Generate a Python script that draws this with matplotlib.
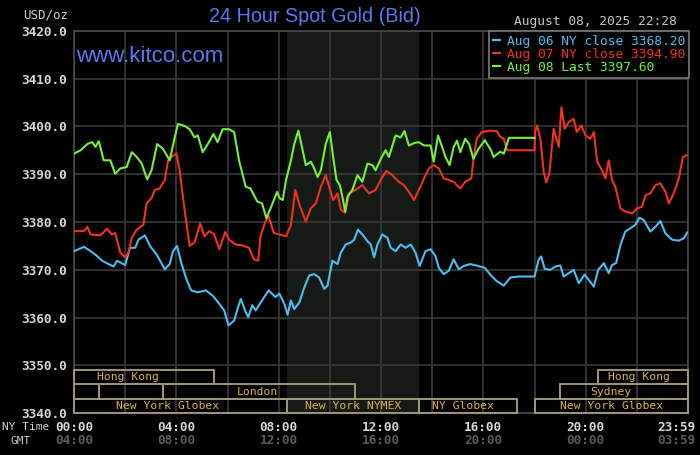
import matplotlib
matplotlib.use("Agg")
import matplotlib.pyplot as plt
from matplotlib.patches import Rectangle
from matplotlib.lines import Line2D

# ---- data (hours NY time, USD/oz) ----
aug06_h = [0, 0.39, 0.65, 0.9, 1.1, 1.35, 1.55, 1.68, 2.0, 2.19, 2.39, 2.52, 2.77, 2.97,
           3.23, 3.55, 3.74, 3.87, 4.03, 4.19, 4.39, 4.58, 4.84, 5.16, 5.42, 5.68, 5.87,
           6.04, 6.26, 6.39, 6.52, 6.71, 6.81, 6.97, 7.1, 7.35, 7.61, 7.87, 8.03, 8.22,
           8.35, 8.48, 8.61, 8.81, 9.0, 9.19, 9.39, 9.58, 9.78, 9.91, 10.1, 10.3, 10.43,
           10.62, 10.82, 10.95, 11.1, 11.27, 11.47, 11.6, 11.73, 11.86, 12.05, 12.25,
           12.38, 12.57, 12.77, 12.96, 13.16, 13.35, 13.51, 13.74, 13.94, 14.13, 14.26,
           14.45, 14.65, 14.84, 15.04, 15.23, 15.49, 15.81, 16.06, 16.27, 16.53, 16.8,
           17.06, 17.38, 18.0, 18.16, 18.26, 18.4, 18.62, 18.82, 19.01, 19.14, 19.34,
           19.53, 19.73, 19.96, 20.12, 20.32, 20.49, 20.71, 20.9, 21.03, 21.19, 21.36,
           21.55, 21.75, 21.94, 22.1, 22.27, 22.53, 22.73, 22.92, 23.12, 23.38, 23.64,
           23.84, 23.97]
aug06_p = [3373.9, 3374.8, 3373.9, 3372.9, 3371.9, 3371.2, 3370.7, 3371.9, 3371.0, 3374.6,
           3374.6, 3376.3, 3377.2, 3375.0, 3373.2, 3370.1, 3371.2, 3373.9, 3375.0, 3371.5,
           3368.1, 3365.7, 3365.3, 3365.7, 3364.6, 3362.9, 3361.5, 3358.4, 3359.4, 3361.8,
           3363.9, 3361.2, 3360.1, 3362.6, 3361.5, 3363.6, 3365.7, 3364.3, 3365.0, 3362.9,
           3360.6, 3363.6, 3361.8, 3363.2, 3366.3, 3368.8, 3369.1, 3368.4, 3366.0, 3366.7,
           3371.9, 3371.2, 3373.6, 3375.3, 3375.7, 3376.3, 3378.4, 3377.4, 3376.0, 3375.3,
           3372.6, 3375.3, 3377.4, 3376.7, 3374.6, 3373.9, 3375.3, 3374.6, 3375.3, 3373.6,
           3370.8, 3373.9, 3374.3, 3372.9, 3370.4, 3369.1, 3369.8, 3372.2, 3370.1, 3370.8,
           3371.2, 3370.8, 3370.4, 3369.0, 3367.6, 3366.7, 3368.4, 3368.6, 3368.6, 3372.1,
           3372.8, 3370.2, 3370.0, 3370.7, 3370.9, 3368.6, 3369.3, 3370.0, 3367.2, 3369.0,
           3367.9, 3366.5, 3370.0, 3371.4, 3369.3, 3371.0, 3371.4, 3375.2, 3378.0, 3378.7,
           3379.4, 3380.9, 3380.4, 3378.0, 3379.0, 3380.2, 3377.6, 3376.3, 3376.1, 3376.6,
           3377.8]

aug07_h = [0, 0.39, 0.52, 0.65, 1.03, 1.29, 1.48, 1.61, 1.81, 2.0, 2.13, 2.26, 2.45, 2.71,
           2.84, 3.03, 3.16, 3.35, 3.55, 3.68, 3.81, 4.0, 4.13, 4.32, 4.52, 4.71, 4.93,
           5.1, 5.29, 5.48, 5.68, 5.91, 6.06, 6.32, 6.58, 6.84, 7.03, 7.2, 7.29, 7.48,
           7.61, 7.81, 8.03, 8.29, 8.48, 8.65, 8.81, 9.06, 9.26, 9.45, 9.65, 9.84, 9.97,
           10.13, 10.3, 10.43, 10.6, 10.75, 11.01, 11.27, 11.53, 11.79, 11.99, 12.21,
           12.44, 12.7, 12.9, 13.09, 13.29, 13.48, 13.68, 13.87, 14.06, 14.26, 14.45,
           14.65, 14.84, 15.1, 15.29, 15.53, 15.61, 15.74, 15.94, 16.26, 16.53, 16.66,
           16.8, 16.93, 17.0, 18.0, 18.02, 18.1, 18.23, 18.36, 18.46, 18.58, 18.75, 18.82,
           18.95, 19.05, 19.18, 19.34, 19.53, 19.65, 19.83, 19.99, 20.18, 20.32, 20.45,
           20.64, 20.77, 20.9, 21.03, 21.16, 21.36, 21.55, 21.81, 22.0, 22.2, 22.34,
           22.53, 22.73, 22.92, 23.12, 23.25, 23.38, 23.54, 23.64, 23.8, 23.97]
aug07_p = [3378.1, 3378.1, 3379.0, 3377.4, 3377.2, 3378.6, 3377.4, 3377.7, 3373.6, 3372.6,
           3373.6, 3376.7, 3378.4, 3379.4, 3383.9, 3385.0, 3386.7, 3387.0, 3388.8, 3392.9,
           3393.6, 3394.3, 3390.8, 3382.6, 3375.0, 3375.7, 3379.7, 3377.0, 3378.1, 3377.4,
           3374.3, 3377.9, 3376.3, 3375.3, 3375.1, 3374.6, 3372.2, 3371.9, 3377.0, 3380.1,
           3381.2, 3377.7, 3377.4, 3377.0, 3379.4, 3386.7, 3383.6, 3380.1, 3382.9, 3383.9,
           3387.4, 3389.8, 3387.4, 3384.6, 3386.0, 3382.6, 3381.9, 3386.0, 3386.7, 3387.7,
           3386.0, 3386.7, 3388.8, 3390.7, 3389.8, 3388.4, 3387.7, 3386.3, 3384.6, 3386.7,
           3389.1, 3391.2, 3391.9, 3391.2, 3389.1, 3388.8, 3388.4, 3387.0, 3388.4, 3389.1,
           3392.9, 3397.4, 3398.8, 3399.1, 3399.0, 3397.8, 3397.4, 3395.0, 3395.0, 3395.0,
           3398.8, 3400.2, 3397.4, 3390.5, 3388.3, 3390.1, 3399.5, 3398.1, 3395.7, 3404.0,
           3399.5, 3400.9, 3401.6, 3398.8, 3400.2, 3398.1, 3397.4, 3398.8, 3392.6, 3390.8,
           3389.1, 3392.9, 3388.8, 3387.4, 3382.8, 3382.2, 3381.8, 3382.8, 3383.2, 3385.6,
           3386.0, 3387.7, 3388.1, 3386.3, 3383.9, 3385.3, 3387.4, 3389.1, 3393.6, 3394.0]

aug08_h = [0, 0.26, 0.52, 0.71, 0.84, 0.97, 1.16, 1.42, 1.61, 1.81, 2.06, 2.26, 2.45, 2.65,
           2.86, 3.03, 3.25, 3.48, 3.74, 3.94, 4.06, 4.32, 4.52, 4.71, 4.84, 5.03, 5.23,
           5.45, 5.61, 5.81, 6.06, 6.26, 6.45, 6.71, 6.9, 7.16, 7.35, 7.52, 7.74, 7.94,
           8.03, 8.16, 8.29, 8.48, 8.61, 8.77, 8.91, 9.06, 9.26, 9.39, 9.52, 9.65, 9.84,
           10.0, 10.13, 10.26, 10.39, 10.49, 10.6, 10.69, 10.88, 11.08, 11.27, 11.47,
           11.66, 11.79, 11.99, 12.18, 12.31, 12.57, 12.77, 12.92, 13.09, 13.29, 13.48,
           13.68, 13.94, 14.06, 14.23, 14.39, 14.52, 14.68, 14.84, 14.97, 15.1, 15.29,
           15.45, 15.61, 15.81, 16.06, 16.3, 16.4, 16.66, 16.8, 16.93, 17.0, 18.0]
aug08_p = [3394.3, 3395.0, 3396.3, 3396.7, 3395.7, 3396.9, 3392.9, 3392.9, 3390.1, 3391.2,
           3391.5, 3394.6, 3393.6, 3392.2, 3388.9, 3390.8, 3396.3, 3395.3, 3392.9, 3397.7,
           3400.5, 3400.1, 3399.4, 3397.7, 3398.1, 3394.6, 3396.3, 3398.4, 3396.7, 3399.4,
           3399.4, 3398.8, 3392.9, 3387.4, 3387.0, 3384.3, 3383.9, 3380.8, 3383.6, 3386.3,
           3385.0, 3384.6, 3388.8, 3392.9, 3396.3, 3399.1, 3395.7, 3391.9, 3392.6, 3391.2,
           3389.4, 3390.8, 3396.3, 3398.8, 3393.6, 3388.8, 3387.7, 3385.3, 3382.2, 3385.3,
           3386.7, 3389.8, 3388.4, 3392.2, 3391.9, 3390.8, 3393.2, 3395.0, 3393.6, 3398.1,
           3397.7, 3399.0, 3396.0, 3396.5, 3396.7, 3396.0, 3396.0, 3392.6, 3398.1, 3395.7,
           3393.6, 3391.9, 3395.7, 3397.0, 3394.6, 3397.4, 3396.3, 3393.2, 3395.3, 3397.1,
           3395.0, 3393.6, 3394.7, 3394.3, 3396.4, 3397.6, 3397.6]

legend_labels = ["Aug 06 NY close 3368.20", "Aug 07 NY close 3394.90", "Aug 08 Last 3397.60"]

y_ticks = [3340, 3350, 3360, 3370, 3380, 3390, 3400, 3410, 3420]
ny_hours = [0, 4, 8, 12, 16, 20, 24]
ny_labels = ["00:00", "04:00", "08:00", "12:00", "16:00", "20:00", "23:59"]
gmt_labels = ["04:00", "08:00", "12:00", "16:00", "20:00", "00:00", "03:59"]

# market sessions: row (0 top), start, end, name
sess_row = [0, 0, 1, 1, 1, 1, 2, 2, 2, 2]
sess_start = [0.0, 20.5, 0.0, 0.96, 3.47, 19.0, 0.0, 8.33, 13.5, 18.0]
sess_end = [5.47, 24.0, 0.96, 3.47, 11.0, 24.0, 8.33, 13.5, 17.3, 24.0]
sess_name = ["Hong Kong", "Hong Kong", "", "", "London", "Sydney",
             "New York Globex", "New York NYMEX", "NY Globex", "New York Globex"]
sess_text_x = [2.1, 22.1, 0, 0, 7.15, 21.0, 3.65, 10.9, 15.2, 21.0]
row_bottom = [3346.1, 3343.0, 3340.0]
row_top = [3349.0, 3346.1, 3342.9]

nymex_open, nymex_close = 8.333, 13.5

# ---- styling ----
BLUE, RED, GREEN = "#4cbef0", "#f0321e", "#76f03a"
TITLE = "#5b78f2"
GRID = "#3a3a3a"
MONO = "DejaVu Sans Mono"

fig = plt.figure(figsize=(7, 4.55), dpi=100, facecolor="black")
ax = fig.add_axes([74 / 700, 41.7 / 455, 614 / 700, 382.6 / 455])
ax.set_facecolor("black")

ax.axvspan(nymex_open, nymex_close, color="#161a16", zorder=0, lw=0)

ax.plot(aug06_h, aug06_p, color=BLUE, lw=1.5, zorder=3)
ax.plot(aug07_h, aug07_p, color=RED, lw=1.5, zorder=3)
ax.plot(aug08_h, aug08_p, color=GREEN, lw=1.5, zorder=3)

ax.set_xlim(0, 24)
ax.set_ylim(3340, 3420)
ax.set_xticks(range(0, 25, 2))
ax.set_yticks(y_ticks)
ax.set_yticklabels([f"{v:.1f}" for v in y_ticks], family=MONO, fontsize=9.2,
                   fontweight="bold", color="#d6d6d6")
ax.set_xticklabels([])
ax.tick_params(length=0, pad=5)
ax.grid(True, color=GRID, lw=1.2, zorder=1)
ax.set_axisbelow(True)
for s in ax.spines.values():
    s.set_color("#4a4a4a")
    s.set_linewidth(1.2)

# session boxes
for r, a, b, name, tx in zip(sess_row, sess_start, sess_end, sess_name, sess_text_x):
    ax.add_patch(Rectangle((a, row_bottom[r]), b - a, row_top[r] - row_bottom[r],
                           fill=False, ec="#9c9878", lw=1.4, zorder=4, clip_on=False))
    if name:
        ax.text(tx, (row_bottom[r] + row_top[r]) / 2, name, family=MONO, fontsize=8.2,
                color="#dcb63c", ha="center", va="center", zorder=5)

# time axis labels
tr = ax.get_xaxis_transform()
for h, ny, gmt in zip(ny_hours, ny_labels, gmt_labels):
    ha = "center"
    if h == 24:
        h, ha = 24.27, "right"
    ax.text(h, -0.036, ny, transform=tr, family=MONO, fontsize=9.2, fontweight="bold",
            color="#d6d6d6", ha=ha, va="center", clip_on=False)
    ax.text(h, -0.072, gmt, transform=tr, family=MONO, fontsize=9.2, fontweight="bold",
            color="#5a5a5a", ha=ha, va="center", clip_on=False)
fig.text(2 / 700, 1 - 427 / 455, "NY Time", family=MONO, fontsize=8, color="#d0d0d0",
         ha="left", va="center")
fig.text(21 / 700, 1 - 441 / 455, "GMT", family=MONO, fontsize=8, color="#c8c8c8",
         ha="center", va="center")

# titles and captions
fig.text(315 / 700, 1 - 17 / 455, "24 Hour Spot Gold (Bid)", family="Liberation Sans",
         fontsize=14.2, color=TITLE, ha="center", va="center")
fig.text(76 / 700, 1 - 61.7 / 455, "www.kitco.com", family="Liberation Sans",
         fontsize=16, color=TITLE, ha="left", va="baseline")
fig.text(68 / 700, 1 - 15 / 455, "USD/oz", family=MONO, fontsize=9, color="#d0d0d0",
         ha="right", va="center")
fig.text(677 / 700, 1 - 22 / 455, "August 08, 2025 22:28", family=MONO, fontsize=9.3,
         color="#c8c8c8", ha="right", va="center")

# legend
handles = [Line2D([], [], color=c, lw=1.5) for c in (BLUE, RED, GREEN)]
leg = ax.legend(handles, legend_labels, loc="upper right", bbox_to_anchor=(1.002, 1.0),
                borderaxespad=0, prop={"family": MONO, "size": 9.3},
                labelcolor=[BLUE, RED, GREEN], handlelength=0.6, handletextpad=0.5,
                borderpad=0.32, labelspacing=0.0, fancybox=False, framealpha=1)
leg.get_frame().set_facecolor("black")
leg.get_frame().set_edgecolor("#7a7a7a")
leg.get_frame().set_linewidth(1.2)
leg.set_zorder(6)

fig.savefig("out.png", dpi=100, facecolor="black")
